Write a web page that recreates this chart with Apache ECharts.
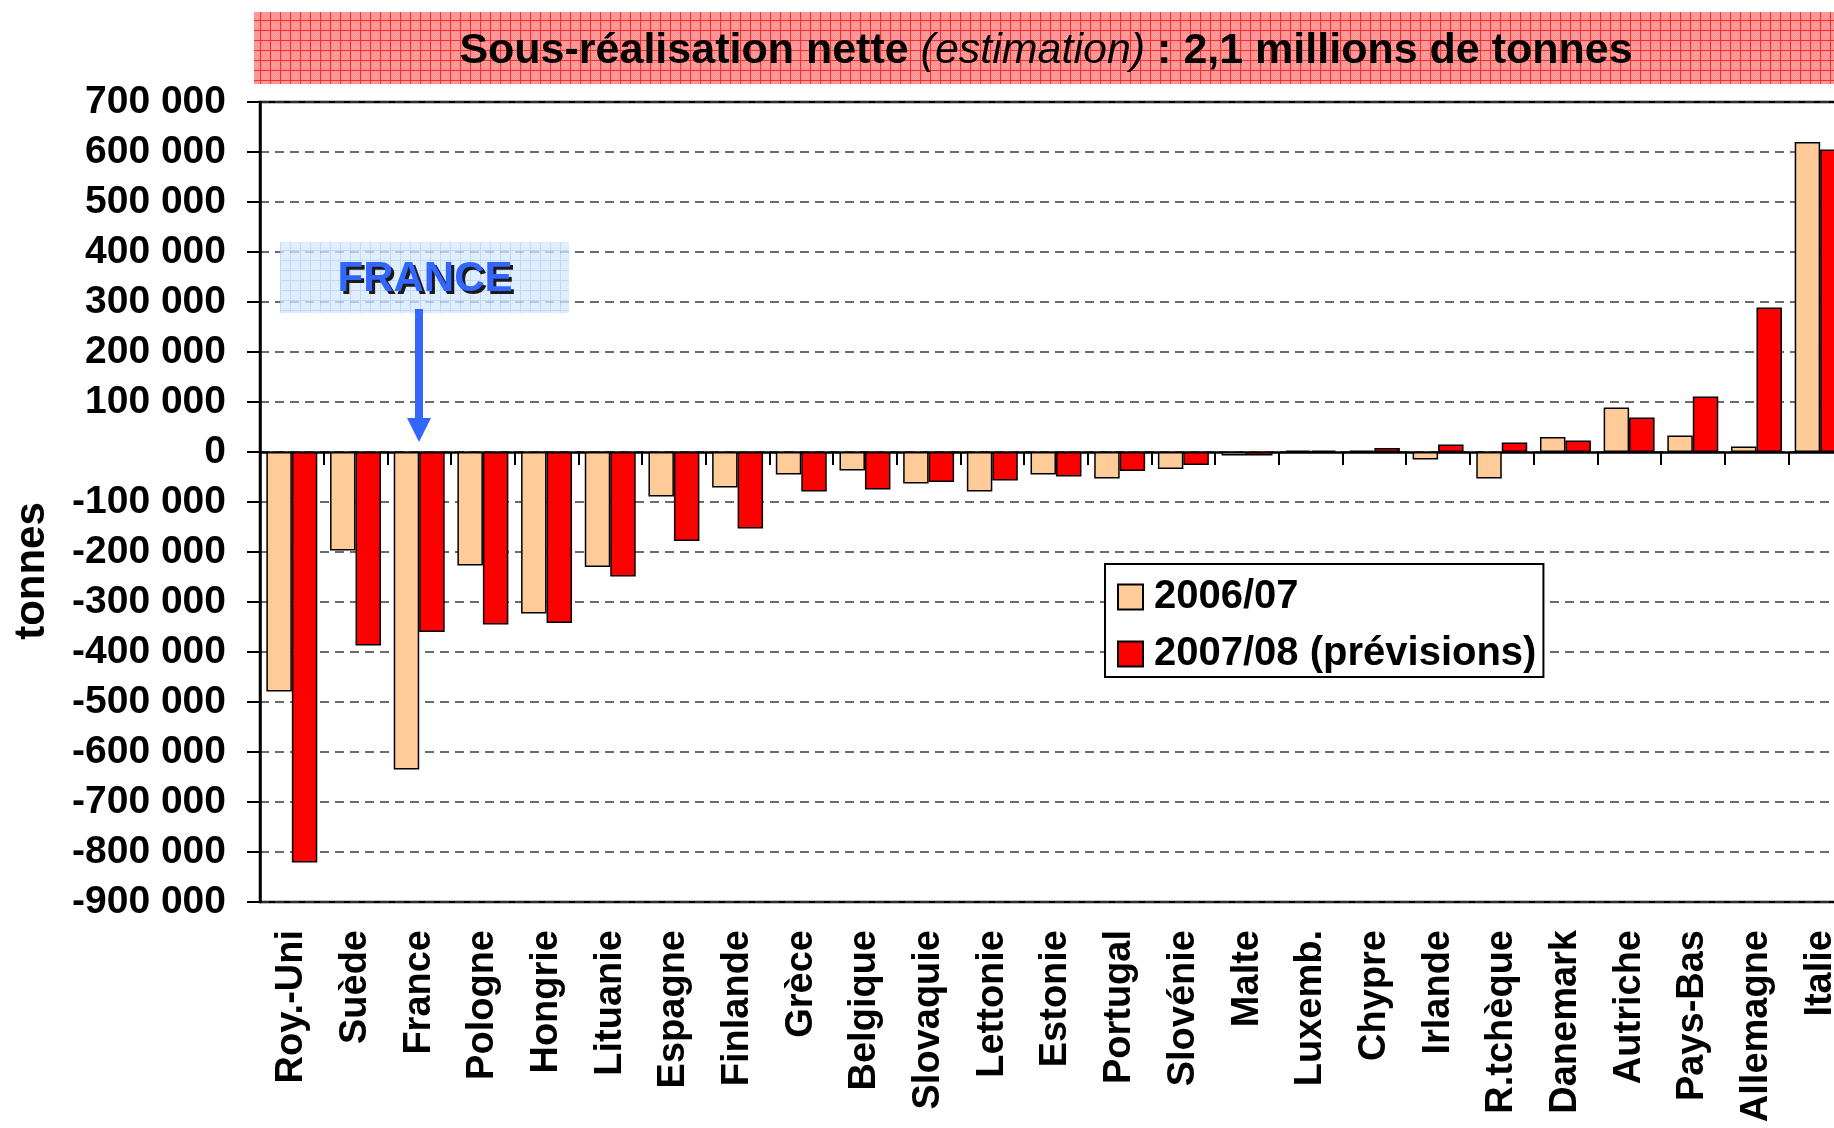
<!DOCTYPE html>
<html>
<head>
<meta charset="utf-8">
<script src="https://cdn.jsdelivr.net/npm/echarts@6/dist/echarts.min.js"></script>
<style>
  html, body { margin: 0; padding: 0; background: #fff; }
  #grafico { width: 1834px; height: 1128px; }
</style>
</head>
<body>
<div id="grafico"></div>
<script>
const pays = ['Roy.-Uni', 'Suède', 'France', 'Pologne', 'Hongrie', 'Lituanie', 'Espagne', 'Finlande', 'Grèce',
  'Belgique', 'Slovaquie', 'Lettonie', 'Estonie', 'Portugal', 'Slovénie', 'Malte', 'Luxemb.', 'Chypre',
  'Irlande', 'R.tchèque', 'Danemark', 'Autriche', 'Pays-Bas', 'Allemagne', 'Italie']

const val2006 = [-479000, -197000, -635000, -227000, -323000, -230000, -89000, -71000, -45000, -37000,
  -63000, -79000, -45000, -53000, -34000, -7000, 3000, 3000, -15000, -53000, 30000, 89000, 33000, 11000, 620000]

const val2007 = [-821000, -387000, -360000, -345000, -342000, -249000, -178000, -153000, -79000, -75000,
  -60000, -57000, -49000, -38000, -26000, -7000, 3000, 8000, 15000, 19000, 23000, 69000, 111000, 289000, 605000]

const nomsSeries = ['2006/07', '2007/08 (prévisions)']
const titre = ['Sous-réalisation nette ', '(estimation)', ' : 2,1 millions de tonnes']

const police = '"Liberation Sans", Arial, sans-serif'

// petite trame quadrillée (comme le fond PowerPoint)
function trame(fond, point, ligne) {
  let c = document.createElement('canvas')
  c.width = 10
  c.height = 10
  let ctx = c.getContext('2d')
  ctx.fillStyle = fond
  ctx.fillRect(0, 0, 10, 10)
  ctx.fillStyle = point
  for (let x = 0; x < 10; x++) {
    for (let y = 0; y < 10; y++) {
      if ((x + y) % 2 === 0) ctx.fillRect(x, y, 1, 1)
    }
  }
  ctx.fillStyle = ligne
  ctx.fillRect(0, 0, 10, 1)
  ctx.fillRect(0, 0, 1, 10)
  return c
}

function milliers(v) {
  return String(v).replace(/\B(?=(\d{3})+(?!\d))/g, ' ')
}

let myChart = echarts.init(document.getElementById('grafico'))

let option = {
  animation: false,
  backgroundColor: '#fff',
  textStyle: { fontFamily: police },
  grid: {
    left: 260,
    top: 102,
    width: 1592,
    height: 800,
    show: true,
    borderColor: '#000',
    borderWidth: 2.5,
    outerBoundsMode: 'none'
  },
  legend: {
    data: nomsSeries,
    orient: 'vertical',
    left: 1105,
    top: 564,
    icon: 'rect',
    itemWidth: 25,
    itemHeight: 25,
    itemGap: 13,
    padding: [11, 7, 1, 12],
    borderColor: '#000',
    borderWidth: 2,
    backgroundColor: '#fff',
    textStyle: {
      fontFamily: police,
      fontWeight: 'bold',
      fontSize: 40,
      lineHeight: 44,
      color: '#000',
      padding: [0, 0, 0, 6]
    }
  },
  xAxis: [
    {
      type: 'category',
      data: pays,
      position: 'bottom',
      axisLine: { onZero: true, lineStyle: { color: '#000', width: 2.5 } },
      axisTick: { show: true, interval: 0, length: 13, lineStyle: { color: '#000', width: 2 } },
      axisLabel: { show: false },
      splitLine: { show: false }
    },
    {
      type: 'category',
      data: pays,
      position: 'bottom',
      axisLine: { show: false, onZero: false },
      axisTick: { show: false },
      axisLabel: {
        interval: 0,
        rotate: 90,
        margin: 28,
        color: '#000',
        fontFamily: police,
        fontWeight: 'bold',
        fontSize: 38
      },
      splitLine: { show: false }
    }
  ],
  yAxis: {
    type: 'value',
    min: -900000,
    max: 700000,
    interval: 100000,
    axisLine: { show: true, lineStyle: { color: '#000', width: 2.5 } },
    axisTick: { show: true, length: 13, lineStyle: { color: '#000', width: 2 } },
    axisLabel: {
      margin: 34,
      color: '#000',
      fontFamily: police,
      fontWeight: 'bold',
      fontSize: 39,
      formatter: milliers
    },
    splitLine: {
      lineStyle: { color: '#3d3d3d', width: 1.5, type: [9, 6] }
    }
  },
  series: [
    {
      name: nomsSeries[0],
      type: 'bar',
      data: val2006,
      barGap: '0%',
      barCategoryGap: '20%',
      itemStyle: { color: '#ffcc99', borderColor: '#000', borderWidth: 1.5 }
    },
    {
      name: nomsSeries[1],
      type: 'bar',
      data: val2007,
      barGap: '0%',
      barCategoryGap: '20%',
      itemStyle: { color: '#ff0000', borderColor: '#000', borderWidth: 1.5 }
    }
  ],
  graphic: [
    {
      type: 'rect',
      shape: { x: 254, y: 12, width: 1600, height: 72 },
      style: { fill: { image: trame('#ff8a8a', '#ffa3a3', '#ff2a2a'), repeat: 'repeat' } },
      z: 10
    },
    {
      type: 'text',
      x: 1046,
      y: 51,
      z: 11,
      style: {
        text: '{b|' + titre[0] + '}{i|' + titre[1] + '}{b|' + titre[2] + '}',
        align: 'center',
        verticalAlign: 'middle',
        rich: {
          b: { fontFamily: police, fontWeight: 'bold', fontSize: 43, fill: '#000' },
          i: { fontFamily: police, fontStyle: 'italic', fontSize: 43, fill: '#000' }
        }
      }
    },
    {
      type: 'rect',
      shape: { x: 280, y: 242, width: 289, height: 71 },
      style: { fill: { image: trame('#cfe5ff', '#dcecff', '#a9cdfb'), repeat: 'repeat' }, opacity: 0.75 },
      z: 10
    },
    // ombre du texte FRANCE
    {
      type: 'text',
      x: 428,
      y: 282,
      z: 11,
      style: {
        text: 'FRANCE',
        align: 'center',
        verticalAlign: 'middle',
        fontFamily: police,
        fontWeight: 'bold',
        fontSize: 42,
        fill: '#1a1a1a'
      }
    },
    {
      type: 'text',
      x: 425,
      y: 279,
      z: 12,
      style: {
        text: 'FRANCE',
        align: 'center',
        verticalAlign: 'middle',
        fontFamily: police,
        fontWeight: 'bold',
        fontSize: 42,
        fill: '#3366ff'
      }
    },
    {
      type: 'rect',
      shape: { x: 415, y: 309, width: 8, height: 112 },
      style: { fill: '#3366ff' },
      z: 11
    },
    {
      type: 'polygon',
      shape: { points: [[407, 418], [431, 418], [419, 442]] },
      style: { fill: '#3366ff' },
      z: 11
    },
    {
      type: 'text',
      x: 32,
      y: 571,
      rotation: Math.PI / 2,
      z: 11,
      style: {
        text: 'tonnes',
        align: 'center',
        verticalAlign: 'middle',
        fontFamily: police,
        fontWeight: 'bold',
        fontSize: 42,
        fill: '#000'
      }
    }
  ]
}

myChart.setOption(option)
</script>
</body>
</html>
